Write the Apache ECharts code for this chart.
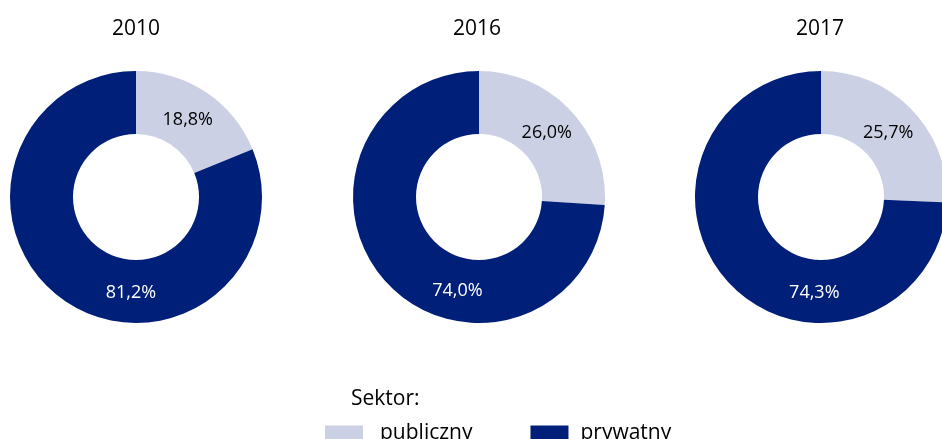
<!DOCTYPE html>
<html>
<head>
<meta charset="utf-8">
<script src="https://cdn.jsdelivr.net/npm/echarts@6/dist/echarts.min.js"></script>
<style>
html,body{margin:0;padding:0;background:#fff;}
#c{width:942px;height:439px;}
</style>
</head>
<body>
<div id="c"></div>
<script>
var years = ['2010', '2016', '2017'];
var categories = ['publiczny', 'prywatny'];
var publiczny = [18.8, 26.0, 25.7];
var prywatny = [81.2, 74.0, 74.3];

var FONT = '"Open Sans", "Noto Sans", sans-serif';
var colors = ['#cbd0e4', '#001f78'];
var centersX = [136, 479, 821];
var titleCenters = [136, 477, 820];
var centerY = 197;
var rIn = 63, rOut = 126;
var bigLabelAngle = [183, 193, 184]; // degrees clockwise from top
var bigLabelR = 96;
var smallLabelR = 93;
var legendTextPad = [12, 7];

function fmt(v) { return v.toFixed(1).replace('.', ',') + '%'; }

var chart = echarts.init(document.getElementById('c'), null, {renderer: 'canvas'});

var titles = years.map(function (y, i) {
  return {
    text: y, left: titleCenters[i] - 5, top: 14, textAlign: 'center',
    textStyle: {fontFamily: FONT, fontSize: 21, fontWeight: 'normal', color: '#000'}
  };
});
titles.push({
  text: 'Sektor:', left: 346, top: 384,
  textStyle: {fontFamily: FONT, fontSize: 21, fontWeight: 'normal', color: '#000'}
});

var series = years.map(function (y, i) {
  return {
    type: 'pie',
    name: y,
    center: [centersX[i], centerY],
    radius: [rIn, rOut],
    startAngle: 90,
    clockwise: true,
    avoidLabelOverlap: false,
    silent: true,
    itemStyle: {borderWidth: 0},
    label: {
      show: true, position: 'inside',
      fontFamily: FONT, fontSize: 18,
      formatter: function (p) { return fmt(p.value); }
    },
    labelLine: {show: false},
    emphasis: {disabled: true},
    labelLayout: function (p) {
      var deg, r;
      if (p.dataIndex === 1) {
        deg = bigLabelAngle[i]; r = bigLabelR;
      } else {
        deg = publiczny[i] / 100 * 180; r = smallLabelR;
      }
      var a = deg * Math.PI / 180;
      return {x: centersX[i] + r * Math.sin(a), y: centerY - r * Math.cos(a), align: 'center', verticalAlign: 'middle'};
    },
    data: [
      {name: categories[0], value: publiczny[i], itemStyle: {color: colors[0]}, label: {color: '#000'}},
      {name: categories[1], value: prywatny[i], itemStyle: {color: colors[1]}, label: {color: '#fff'}}
    ]
  };
});

chart.setOption({
  animation: false,
  title: titles,
  legend: {
    data: categories.map(function (c, k) {
      return {name: c, textStyle: {padding: [0, 0, 0, legendTextPad[k]]}};
    }),
    left: 320, top: 418,
    itemWidth: 38, itemHeight: 16, itemGap: 58,
    icon: 'rect',
    selectedMode: false,
    textStyle: {fontFamily: FONT, fontSize: 21, color: '#000'}
  },
  series: series
});
</script>
</body>
</html>
